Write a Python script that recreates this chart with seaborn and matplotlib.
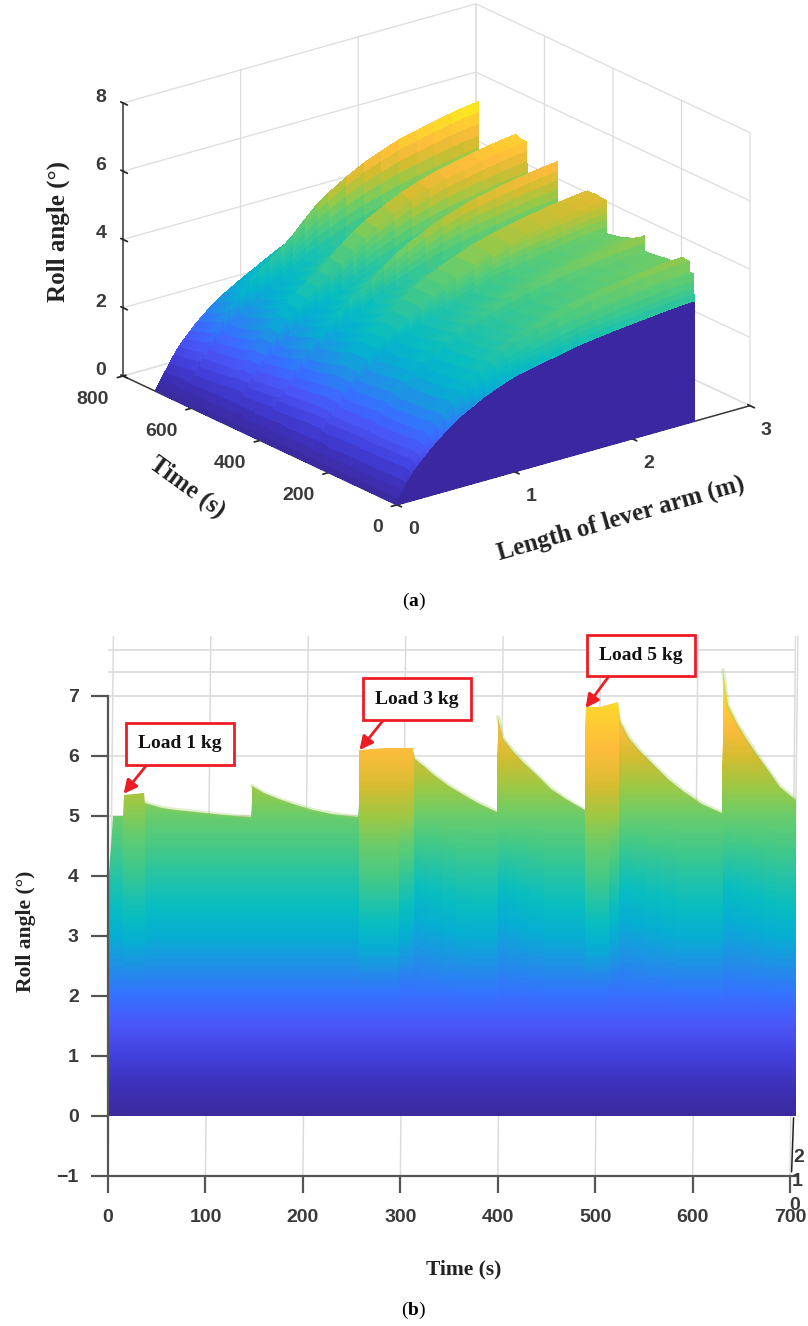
import numpy as np
import matplotlib
matplotlib.use("Agg")
import matplotlib.pyplot as plt
import seaborn as sns
from mpl_toolkits.mplot3d import proj3d

# Values
time_s = [0, 1, 2, 3, 4, 5, 15, 16, 37, 38, 45, 55, 70, 90, 110, 130, 147, 147.5, 148, 160, 175, 190, 210,
          230, 257, 257.2, 257.4, 257.6, 257.8, 258, 285, 313, 315, 325, 335, 350, 365, 380, 399,
          399.2, 399.4, 399.6, 399.8, 400, 405, 415, 425, 440, 455, 470, 489, 489.2, 489.4, 489.6, 489.8,
          490, 505, 523, 526, 535, 545, 560, 575, 590, 610, 630, 630.2, 630.4, 630.6, 630.8, 630.9, 631,
          636, 645, 655, 665, 680, 690, 706]
roll_end = [0, 4.05, 4.3, 4.5, 4.75, 5.0, 5.0, 5.35, 5.38, 5.22, 5.18, 5.14, 5.1, 5.07, 5.03, 5.0, 4.98, 5.24,
            5.5, 5.38, 5.28, 5.2, 5.1, 5.04, 4.98, 5.2, 5.45, 5.65, 5.9, 6.1, 6.13, 6.13, 5.95, 5.82, 5.68,
            5.5, 5.35, 5.22, 5.07, 5.4, 5.7, 6.0, 6.3, 6.65, 6.3, 6.1, 5.92, 5.68, 5.45, 5.28, 5.1,
            5.45, 5.8, 6.15, 6.5, 6.82, 6.82, 6.9, 6.55, 6.3, 6.1, 5.85, 5.62, 5.42, 5.2, 5.05,
            5.45, 5.85, 6.25, 6.65, 7.05, 7.43, 6.85, 6.55, 6.3, 6.05, 5.7, 5.48, 5.27]
arm_m = [0, 0.02, 0.05, 0.08, 0.12, 0.16, 0.2, 0.25, 0.3, 0.36, 0.42, 0.5, 0.58, 0.66, 0.75, 0.85, 0.95,
         1.05, 1.15, 1.25, 1.4, 1.55, 1.7, 1.85, 2.0, 2.15, 2.3, 2.4, 2.53]
# settled curve along the arm at the start and at the end of the run
arm_frac_first = [0, 0.04, 0.09, 0.14, 0.2, 0.25, 0.29, 0.34, 0.39, 0.44, 0.49, 0.55, 0.6, 0.64, 0.69, 0.73, 0.77,
                  0.8, 0.82, 0.84, 0.87, 0.9, 0.92, 0.94, 0.955, 0.97, 0.985, 0.993, 1.0]
arm_frac_last = [0, 0.026, 0.065, 0.105, 0.155, 0.205, 0.25, 0.295, 0.335, 0.38, 0.42, 0.47, 0.51, 0.545, 0.585,
                 0.625, 0.665, 0.7, 0.73, 0.76, 0.8, 0.835, 0.865, 0.895, 0.92, 0.945, 0.97, 0.985, 1.0]
# how much of a peak above the settled value reaches each arm position
arm_peak_share = [0, 0.01, 0.03, 0.05, 0.07, 0.09, 0.1, 0.13, 0.17, 0.22, 0.26, 0.31, 0.36, 0.4, 0.43, 0.46,
                  0.52, 0.62, 0.72, 0.78, 0.85, 0.91, 0.95, 0.98, 0.99, 1.0, 1.0, 1.0, 1.0]
settled_roll = 5.0
panel_a_gain = 0.86  # surface in (a) sits lower than the curve in (b)
parula_hex = ["#3a2a9c", "#3d30b8", "#4240dc", "#4a55f5", "#3670ff", "#2090e6", "#06aed2", "#08bdc0",
              "#25c3a5", "#45c985", "#68cc6c", "#9cc845", "#d4bc30", "#fdbc3c", "#fdd62c", "#f9fb15"]
time_ticks = [0, 200, 400, 600, 800]
arm_ticks = [0, 1, 2, 3]
roll_ticks = [0, 2, 4, 6, 8]
time_ticks_b = [0, 100, 200, 300, 400, 500, 600, 700]
roll_ticks_b = [-1, 0, 1, 2, 3, 4, 5, 6, 7]
load_labels = ["Load 1 kg", "Load 3 kg", "Load 5 kg"]
load_tip_t = [16, 258, 490]
load_tip_roll = [5.37, 6.1, 6.8]
load_box_t = [74, 317, 547]
load_box_roll = [6.2, 6.95, 7.67]
load_start = [16, 258, 490]
load_end = [37, 313, 523]
load_shift = [0.25, 0.5, 0.5]
cool_start = [313, 400, 523, 631]
cool_end = [370, 455, 590, 690]
decay_start = [38, 148, 315, 400, 526, 631]
decay_end = [147, 257, 399, 489, 630, 706]

W, H = 808, 1326
SERIF = "Liberation Serif"
DARK = "#3a3a3a"
GRID = "#dcdcdc"

sns.set_theme(style="white")
plt.rcParams["font.family"] = ["Liberation Sans", "DejaVu Sans"]
plt.rcParams["mathtext.fontset"] = "custom"
plt.rcParams["mathtext.rm"] = "Liberation Serif"
plt.rcParams["mathtext.bf"] = "Liberation Serif:bold"

cmap = sns.blend_palette(parula_hex, as_cmap=True)
norm = plt.Normalize(0, 7.5)

fig = plt.figure(figsize=(W / 100, H / 100), dpi=100)

# (a) surface
ax = fig.add_axes([0.1, 0.6, 0.8, 0.4], projection="3d", proj_type="ortho", computed_zorder=False)
ax.view_init(elev=21.3, azim=-127.7)
ax.set_box_aspect((446, 448, 293))
ax.set_xlim(0, 3, view_margin=0)
ax.set_ylim(0, 800, view_margin=0)
ax.set_zlim(0, 8, view_margin=0)

t_arr = np.array(time_s)
end_arr = np.array(roll_end)
T, X = np.meshgrid(time_s, arm_m)
w = t_arr / t_arr.max()
frac = np.outer(arm_frac_first, 1 - w) + np.outer(arm_frac_last, w)
Z = frac * np.minimum(end_arr, settled_roll) + np.outer(arm_peak_share, np.maximum(end_arr - settled_roll, 0))
# colour of a facet is the mean height of its corners
mean_z = Z.copy()
mean_z[:-1, :-1] = (Z[:-1, :-1] + Z[1:, :-1] + Z[:-1, 1:] + Z[1:, 1:]) / 4
colors = cmap(norm(mean_z))
colors[:, 0] = matplotlib.colors.to_rgba("#3b28a0")  # front wall is flat purple
# one strip per time step, far ones first, so the steps hide what is behind them
n_t = len(time_s)
for i in range(n_t - 1):
    ax.plot_surface(X[:, i:i + 2], T[:, i:i + 2], panel_a_gain * Z[:, i:i + 2],
                    facecolors=colors[:, i:i + 2], rstride=1, cstride=1, shade=False,
                    linewidth=0, antialiased=False, zorder=n_t - i)

ax.set_xticks(arm_ticks)
ax.set_yticks(time_ticks)
ax.set_zticks(roll_ticks)
ax.zaxis._get_tickdir = lambda pos: 1
for axis, ha in zip([ax.xaxis, ax.yaxis, ax.zaxis], ["left", "right", "center"]):
    axis.set_pane_color((1, 1, 1, 0))
    axis.pane.set_edgecolor(GRID)
    axis.line.set_color(DARK)
    axis.line.set_linewidth(1.1)
    axis._axinfo["grid"].update(color=GRID, linewidth=0.9)
    axis._axinfo["tick"]["color"] = DARK
    for lab in axis.get_ticklabels():
        lab.set_weight("bold")
        lab.set_color(DARK)
        lab.set_fontsize(14)
        lab.set_ha(ha)
for lab in ax.zaxis.get_ticklabels():
    lab.set_va("baseline")
ax.tick_params(axis="x", pad=2)
ax.tick_params(axis="y", pad=2)
ax.tick_params(axis="z", pad=1)


def fit_axes(a, pts, targets):
    # move the 3d axes so two box corners land on the wanted pixels
    for _ in range(3):
        fig.canvas.draw()
        px = []
        for p in pts:
            u, v, _w = proj3d.proj_transform(p[0], p[1], p[2], a.get_proj())
            px.append(a.transData.transform((u, v)))
        px = np.array(px)
        tg = np.array([[t[0], H - t[1]] for t in targets], dtype=float)
        s = (tg[1, 0] - tg[0, 0]) / (px[1, 0] - px[0, 0])
        pos = a.get_position()
        cx, cy = (pos.x0 + pos.x1) / 2, (pos.y0 + pos.y1) / 2
        new_w, new_h = pos.width * s, pos.height * s
        dx = (tg[0, 0] - (cx * W + (px[0, 0] - cx * W) * s)) / W
        dy = (tg[0, 1] - (cy * H + (px[0, 1] - cy * H) * s)) / H
        a.set_position([cx - new_w / 2 + dx, cy - new_h / 2 + dy, new_w, new_h])


fit_axes(ax, [(0, 800, 0), (3, 0, 0)], [(123, 376), (750, 406)])

fig.text(58 / W, 1 - 231 / H, "Roll angle (°)", rotation=90, family=SERIF, weight="bold", fontsize=18,
         color="#222222", ha="center", va="center")
fig.text(187 / W, 1 - 487 / H, "Time (s)", rotation=-36, family=SERIF, weight="bold", fontsize=18,
         color="#222222", ha="center", va="center")
fig.text(621 / W, 1 - 518 / H, "Length of lever arm (m)", rotation=16, family=SERIF, weight="bold",
         fontsize=18, color="#222222", ha="center", va="center")
fig.text(414 / W, 1 - 601 / H, r"($\mathbf{a}$)", family=SERIF, fontsize=14, color="black",
         ha="center", va="center")

# (b) side view of the same run
xlim_b = (0, 706)
ylim_b = (-1, 8)
left, right, top, bottom = 108, 796, 636, 1176
bx = fig.add_axes([left / W, 1 - bottom / H, (right - left) / W, (bottom - top) / H])
bx.set_xlim(*xlim_b)
bx.set_ylim(*ylim_b)

for t in time_ticks_b:
    bx.plot([t, t + 5.5], [-1, 8], color=GRID, lw=1.1, zorder=1)
bx.plot([702, 708], [0, 8], color=GRID, lw=1.1, zorder=1, clip_on=False)
bx.hlines([5, 6, 7, 7.4, 7.77], 0, 706, color=GRID, lw=1.2, zorder=1)

y_levels = np.linspace(0, 7.5, 151)
yy = y_levels[:, None]
C = np.tile(yy, (1, len(time_s)))
warm = np.clip((yy - 2.2) / 1.7, 0, 1) * np.clip((7.2 - yy) / 1.5, 0, 1)
cool = np.clip((yy - 1.8) / 1.7, 0, 1) * np.clip((5 - yy) / 1.2, 0, 1)
for s, e, d in zip(load_start, load_end, load_shift):
    mask = (t_arr >= s) & (t_arr <= e)
    C[:, mask] += d * warm
for s, e in zip(cool_start, cool_end):
    mask = (t_arr >= s) & (t_arr <= e)
    C[:, mask] -= 0.35 * cool * (e - t_arr[mask]) / (e - s)
mesh = bx.pcolormesh(time_s, y_levels, C, cmap=cmap, norm=norm, shading="nearest", zorder=2)
edge = bx.fill_between(time_s, 0, roll_end, color="none")
mesh.set_clip_path(edge.get_paths()[0], bx.transData)

# soft fringe along the decaying top edge
for s, e in zip(decay_start, decay_end):
    mask = (t_arr >= s) & (t_arr <= e)
    sns.lineplot(x=t_arr[mask], y=end_arr[mask], ax=bx, color="#9ccb5a", lw=3, alpha=0.3,
                 estimator=None, sort=False, zorder=3)

sns.despine(ax=bx, right=True, top=True)
bx.spines["left"].set_bounds(-1, 7)
for sp in ["left", "bottom"]:
    bx.spines[sp].set_color("#555555")
    bx.spines[sp].set_linewidth(1.6)
bx.set_xticks(time_ticks_b)
bx.set_yticks(roll_ticks_b)
bx.set_yticklabels(["\u22121"] + [str(v) for v in roll_ticks_b[1:]])
bx.tick_params(axis="both", direction="out", length=12, width=1.6, color="#555555", labelsize=14,
               labelcolor=DARK, left=True, bottom=True)
bx.tick_params(axis="x", pad=12)
bx.tick_params(axis="y", pad=9)
for lab in bx.get_xticklabels() + bx.get_yticklabels():
    lab.set_weight("bold")

for lab, tx, ty, bt, by in zip(load_labels, load_tip_t, load_tip_roll, load_box_t, load_box_roll):
    bx.annotate(lab, xy=(tx, ty), xytext=(bt, by), family=SERIF, weight="bold", fontsize=14, color="#111111",
                ha="center", va="center", zorder=6,
                bbox=dict(boxstyle="square,pad=0.62", fc="white", ec="#ee1c25", lw=2),
                arrowprops=dict(arrowstyle="-|>", color="#ee1c25", lw=2, mutation_scale=20,
                                shrinkA=0, shrinkB=0, relpos=(0.22, 0)))

# leftover depth axis squeezed at the right edge
bx.plot([703.5, 701.5], [-0.03, -0.93], color="#222222", lw=1.1, clip_on=False, zorder=5)
for txt, xp, yp in zip(["2", "1", "0"], [799, 797, 795], [1158, 1182, 1205]):
    fig.text(xp / W, 1 - yp / H, txt, weight="bold", fontsize=14, color=DARK, ha="center", va="center")

fig.text(26 / W, 1 - 931 / H, "Roll angle (°)", rotation=90, family=SERIF, weight="bold", fontsize=15.5,
         color="#222222", ha="center", va="center")
fig.text(464 / W, 1 - 1269 / H, "Time (s)", family=SERIF, weight="bold", fontsize=15.5, color="#222222",
         ha="center", va="center")
fig.text(414 / W, 1 - 1310 / H, r"($\mathbf{b}$)", family=SERIF, fontsize=14, color="black",
         ha="center", va="center")

fig.savefig("out.png", dpi=100)
